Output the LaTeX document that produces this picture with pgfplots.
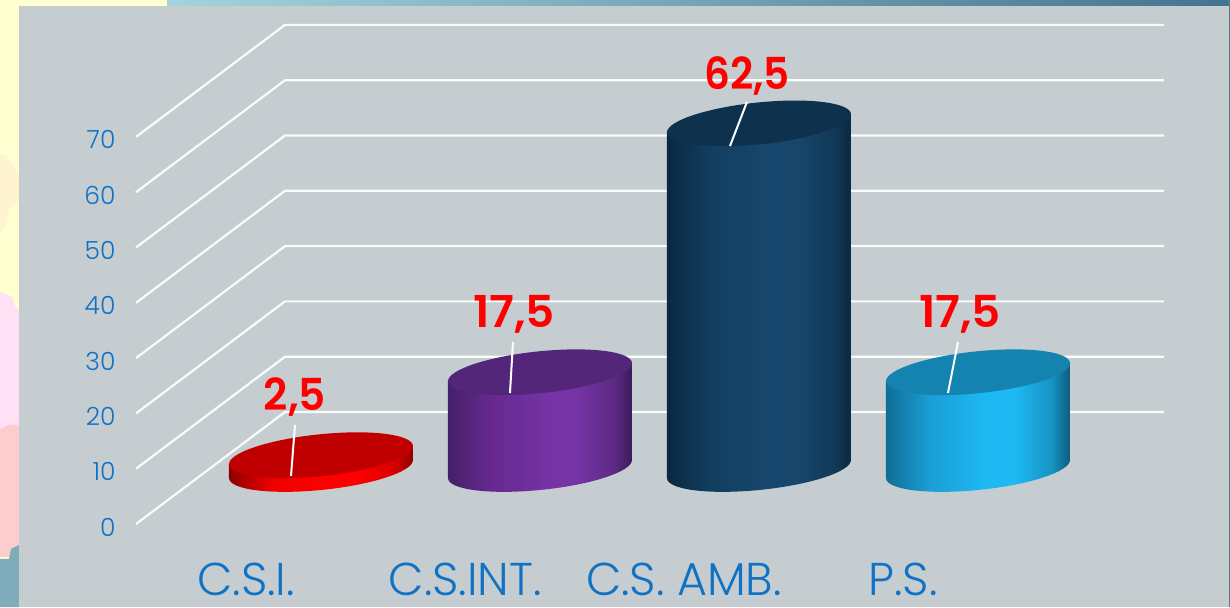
\documentclass[border=0pt]{standalone}
\usepackage{fontspec}
\setmainfont{Poppins}[UprightFont=* Light,BoldFont=* SemiBold]
\usepackage{pgfplots}
\pgfplotsset{compat=1.18}
\definecolor{panel}{HTML}{C6CDD0}
\definecolor{lbl}{HTML}{0F72C4}
% side shadings (visible part runs from 25bp to 75bp)
\newcommand\sideshade[6]{%
  \pgfdeclarehorizontalshading{#1}{100bp}{%
    color(0bp)=(#2); color(25bp)=(#2); color(37bp)=(#3); color(52bp)=(#4);
    color(60bp)=(#4); color(70bp)=(#5); color(75bp)=(#6); color(100bp)=(#6)}}
\definecolor{ra}{HTML}{8E0000}\definecolor{rb}{HTML}{F00000}\definecolor{rc}{HTML}{FF0000}\definecolor{rd}{HTML}{D80000}\definecolor{re}{HTML}{900000}\definecolor{rt}{HTML}{C00000}
\definecolor{pa}{HTML}{44206A}\definecolor{pb}{HTML}{66298F}\definecolor{pc}{HTML}{7533A5}\definecolor{pd}{HTML}{5E2A86}\definecolor{pe}{HTML}{3A1C58}\definecolor{pt}{HTML}{54267A}
\definecolor{da}{HTML}{0A2840}\definecolor{db}{HTML}{123F60}\definecolor{dc}{HTML}{17466C}\definecolor{dd}{HTML}{113A58}\definecolor{de}{HTML}{0A2A40}\definecolor{dt}{HTML}{0E324E}
\definecolor{ca}{HTML}{0F6E96}\definecolor{cb}{HTML}{1A9FD5}\definecolor{cc}{HTML}{1EB8F2}\definecolor{cd}{HTML}{1693C4}\definecolor{ce}{HTML}{0E5C7C}\definecolor{ct}{HTML}{1583B0}
\definecolor{syel}{HTML}{FFFFD2}\definecolor{scre}{HTML}{FFF3D0}\definecolor{spin}{HTML}{FFE0F5}\definecolor{ssal}{HTML}{FCCDCD}\definecolor{stea}{HTML}{7FACBB}
\definecolor{tl}{HTML}{A5D3DC}\definecolor{tr}{HTML}{44748E}\definecolor{edge}{HTML}{4F8088}
\sideshade{sR}{ra}{rb}{rc}{rd}{re}
\sideshade{sP}{pa}{pb}{pc}{pd}{pe}
\sideshade{sD}{da}{db}{dc}{dd}{de}
\sideshade{sC}{ca}{cb}{cc}{cd}{ce}
% one unit of value is 5.53pt high
\newcommand\cylmark[3]{%
  \pgfdeclareplotmark{#1}{%
    \pgfmathsetmacro\hh{\val*5.53}%
    \pgfpathmoveto{\pgfpoint{-92pt}{-9pt}}%
    \pgfpathlineto{\pgfpoint{-92pt}{-9pt-\hh pt}}%
    \pgfpathlineto{\pgfpoint{92pt}{9pt-\hh pt}}%
    \pgfpathlineto{\pgfpoint{92pt}{9pt}}%
    \pgfpathclose
    \pgfpathellipse{\pgfpoint{0pt}{-\hh pt}}{\pgfpoint{92pt}{9pt}}{\pgfpoint{0pt}{21pt}}%
    \pgfshadepath{#2}{0}%
    \pgfusepath{discard}%
    \pgfsetfillcolor{#3}%
    \pgfpathellipse{\pgfpointorigin}{\pgfpoint{92pt}{9pt}}{\pgfpoint{0pt}{21pt}}%
    \pgfusepath{fill}%
  }}
\cylmark{cylR}{sR}{rt}
\cylmark{cylP}{sP}{pt}
\cylmark{cylD}{sD}{dt}
\cylmark{cylC}{sC}{ct}
\pgfplotsset{grid3d/.style={white!92!panel,line width=2.2pt,forget plot},
  lead/.style={white,line width=2pt,forget plot},
  cyl/.style={only marks,forget plot,mark=#1,visualization depends on={y \as \val}},
  frame/.style={at={(0,0)},anchor=south west,width=1230pt,height=607pt,scale only axis,
    xmin=-1.46575,xmax=4.15068,ymin=-24.955,ymax=84.810,clip=false}}
\newcommand\vallabel[2]{\fontsize{44}{46}\selectfont\bfseries\scalebox{#1}[1]{#2}}
\begin{document}
\begin{tikzpicture}[x=1pt,y=1pt]
\useasboundingbox (0,0) rectangle (1230,607);
% surrounding slide
\fill[syel] (0,0) rectangle (20,607);
\fill[syel] (0,601) rectangle (167,607);
\fill[scre] (0,454) -- (8,450) -- (14,440) -- (19,430) -- (19,407) -- (10,400) -- (6,385) -- (0,372) -- cycle;
\fill[spin] (0,315) -- (12,310) -- (15,300) -- (19,297) -- (19,170) -- (0,170) -- cycle;
\fill[ssal] (0,177) -- (8,182) -- (19,182) -- (19,50) -- (0,50) -- cycle;
\fill[stea] (0,48) -- (9,48) -- (11,58) -- (19,62) -- (19,0) -- (0,0) -- cycle;
\shade[left color=tl,right color=tr] (167,601) rectangle (1230,607);
\fill[edge] (1228,0) rectangle (1230,607);
\fill[panel] (19,0) rectangle (1229,601);
\begin{axis}[frame,
  axis line style={draw=none},tick style={draw=none},
  xtick={0,1,2,3},xticklabels={C.S.I.,C.S.INT.,C.S. AMB.,P.S.},
  xticklabel style={font=\fontsize{46}{48}\selectfont\color{lbl},anchor=base,text depth=0pt,inner sep=0pt,xshift=-75pt,yshift=12pt},
  ytick={-9.95,0.05,10.05,20.05,30.05,40.05,50.05,60.05},
  yticklabels={0,10,20,30,40,50,60,70},
  yticklabel style={font=\fontsize{25}{27}\selectfont\color{lbl},anchor=east,xshift=119pt,yshift=-3pt},
  /pgf/number format/assume math mode=true]
% floor-to-wall grid lines, one for each value 0 ... 70
\foreach \v in {0,10,20,30,40,50,60,70}{
  \edef\tmp{\noexpand\addplot[grid3d] coordinates {(-0.8447,{\v-9.95}) (-0.1644,{\v+10.31}) (3.849,{\v+10.31})};}\tmp
}
\addplot[cyl=cylR] coordinates {(0,2.5)};
\addplot[cyl=cylP] coordinates {(1,17.5)};
\addplot[cyl=cylD] coordinates {(2,62.5)};
\addplot[cyl=cylC] coordinates {(3,17.5)};
\end{axis}
% second axis with the same frame, so that leaders lie above the cylinders
\begin{axis}[frame,hide axis]
\addplot[lead] coordinates {(-0.1370,-1.27) (-0.1187,7.95)};
\addplot[lead] coordinates {(0.8630,13.74) (0.8767,22.96)};
\addplot[lead] coordinates {(1.8676,58.41) (1.9452,66.38)};
\addplot[lead] coordinates {(2.8630,13.74) (2.9087,22.96)};
\node[text=red] at (axis cs:-0.1187,13.0) {\vallabel{0.96}{2,5}};
\node[text=red] at (axis cs:0.8813,27.9) {\vallabel{1.03}{17,5}};
\node[text=red] at (axis cs:1.9452,71.1) {\vallabel{0.92}{62,5}};
\node[text=red] at (axis cs:2.9178,27.9) {\vallabel{1.03}{17,5}};
\end{axis}
\end{tikzpicture}
\end{document}
